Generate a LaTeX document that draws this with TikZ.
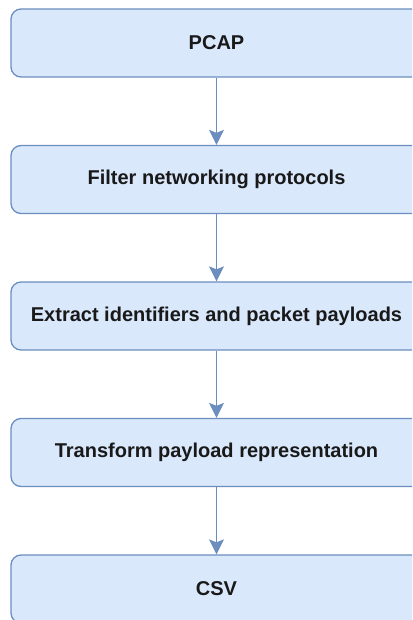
\documentclass[tikz,border=0pt]{standalone}
\usepackage{fontspec}
\setmainfont{Liberation Sans}
\usetikzlibrary{arrows.meta}
\definecolor{boxfill}{HTML}{DAE8FC}
\definecolor{boxline}{HTML}{6C8EBF}
\begin{document}
\begin{tikzpicture}[x=1pt,y=1pt,
  stage/.style={draw=boxline, fill=boxfill, line width=1.3pt, rounded corners=10pt,
    minimum width=411pt, minimum height=68pt, inner sep=0pt,
    font=\fontsize{20}{24}\selectfont\bfseries, text=black!90},
  flow/.style={draw=boxline, line width=1.3pt,
    -{Stealth[length=15pt, width=15pt, inset=3pt]}}]
\useasboundingbox (0,0) rectangle (412,-620);
\clip (0,0) rectangle (412,-620);
\node[stage] (pcap)      at (216.5,-43)    {PCAP};
\node[stage] (filter)    at (216.5,-179.5) {Filter networking protocols};
\node[stage] (extract)   at (216.5,-316)   {Extract identifiers and packet payloads};
\node[stage] (transform) at (216.5,-452.5) {Transform payload representation};
\node[stage] (csv)       at (216.5,-589)   {CSV};
\draw[flow] (pcap) -- (filter);
\draw[flow] (filter) -- (extract);
\draw[flow] (extract) -- (transform);
\draw[flow] (transform) -- (csv);
\end{tikzpicture}
\end{document}
